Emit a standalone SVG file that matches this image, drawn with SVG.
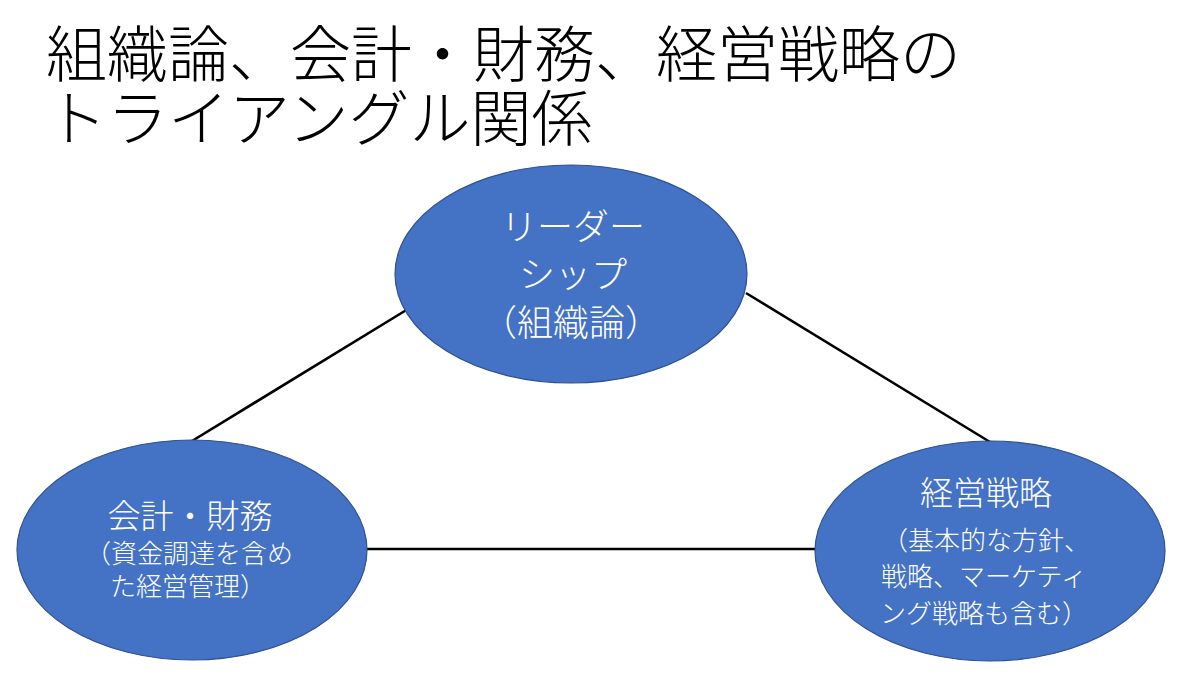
<svg xmlns="http://www.w3.org/2000/svg" width="1200" height="693" viewBox="0 0 1200 693">
<style>
.title{font-family:"Noto Sans CJK JP","Noto Sans CJK SC",sans-serif;font-size:61px;font-weight:300;fill:#000}
.node ellipse{fill:#4472C4;stroke:#2F528F;stroke-width:1.2}
.lbl{font-family:"Noto Sans CJK JP","Noto Sans CJK SC",sans-serif;font-weight:300;fill:#fff;text-anchor:middle}
.big{font-size:36px}
.mid{font-size:33px}
.sm{font-size:26px}
.conn line{stroke:#000;stroke-width:2.6;stroke-linecap:butt}
</style>
<rect width="1200" height="693" fill="#fff"/>
<g id="title">
<text class="title" x="46" y="77">組織論、会計・財務、経営戦略の</text>
<text class="title" x="46" y="141">トライアングル関係</text>
</g>
<g id="connectors" class="conn">
<line x1="408" y1="309" x2="192" y2="441"/>
<line x1="746" y1="293" x2="990" y2="442"/>
<line x1="367" y1="549" x2="816" y2="549"/>
</g>
<g id="leadership" class="node">
<ellipse cx="571" cy="274" rx="176" ry="109"/>
<text class="lbl big" x="573" y="240">リーダー</text>
<text class="lbl big" x="573" y="288">シップ</text>
<text class="lbl big" x="571" y="336">（組織論）</text>
</g>
<g id="accounting" class="node">
<ellipse cx="192" cy="550" rx="175" ry="110"/>
<text class="lbl mid" x="190" y="528">会計・財務</text>
<text class="lbl sm" x="189" y="563">（資金調達を含め</text>
<text class="lbl sm" x="188" y="596">た経営管理）</text>
</g>
<g id="strategy" class="node">
<ellipse cx="990" cy="551" rx="175" ry="110"/>
<text class="lbl mid" x="986" y="505">経営戦略</text>
<text class="lbl sm" x="986" y="550">（基本的な方針、</text>
<text class="lbl sm" x="984" y="586">戦略、マーケティ</text>
<text class="lbl sm" x="984" y="623">ング戦略も含む）</text>
</g>
</svg>
